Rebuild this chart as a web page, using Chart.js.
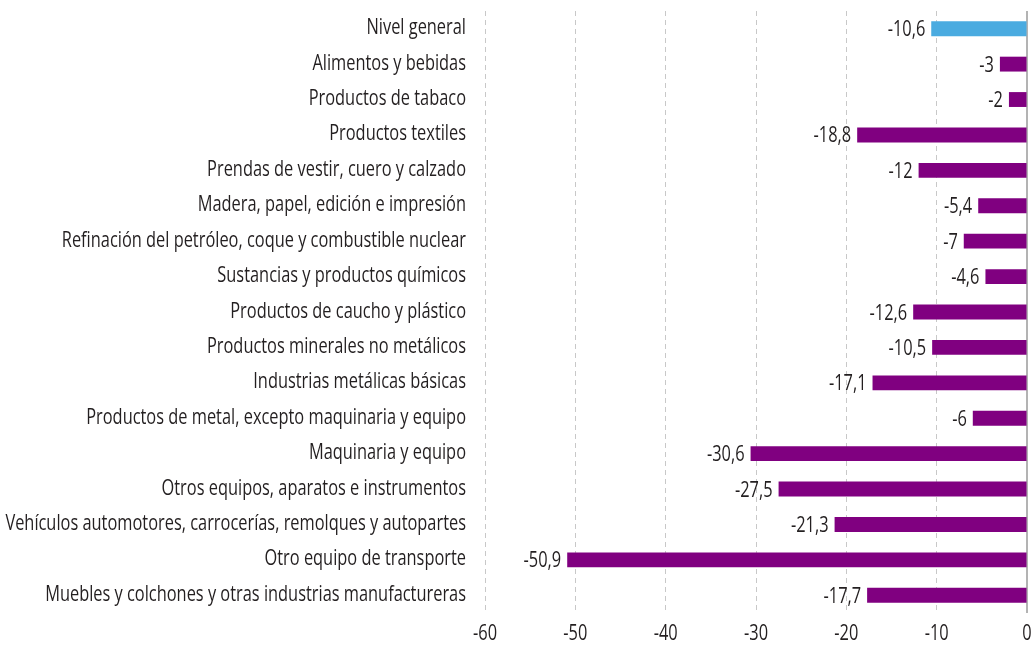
<!DOCTYPE html>
<html>
<head>
<meta charset="utf-8">
<script src="https://cdn.jsdelivr.net/npm/chart.js@4"></script>
<style>
html,body{margin:0;padding:0;background:#fff;}
#wrap{width:1035px;height:645px;position:relative;}
</style>
</head>
<body>
<div id="wrap"><canvas id="c"></canvas></div>
<script>
const categories = [
  "Nivel general",
  "Alimentos y bebidas",
  "Productos de tabaco",
  "Productos textiles",
  "Prendas de vestir, cuero y calzado",
  "Madera, papel, edición e impresión",
  "Refinación del petróleo, coque y combustible nuclear",
  "Sustancias y productos químicos",
  "Productos de caucho y plástico",
  "Productos minerales no metálicos",
  "Industrias metálicas básicas",
  "Productos de metal, excepto maquinaria y equipo",
  "Maquinaria y equipo",
  "Otros equipos, aparatos e instrumentos",
  "Vehículos automotores, carrocerías, remolques y autopartes",
  "Otro equipo de transporte",
  "Muebles y colchones y otras industrias manufactureras"
];
const values = [-10.6, -3, -2, -18.8, -12, -5.4, -7, -4.6, -12.6, -10.5, -17.1, -6, -30.6, -27.5, -21.3, -50.9, -17.7];
const xTicks = [-60, -50, -40, -30, -20, -10, 0];

const FONT = "'Open Sans', 'Noto Sans', sans-serif";
const FONT_SIZE = 21;
const SQUEEZE = 0.78;
const TEXT = '#231f20';
const colors = values.map((v, i) => i === 0 ? '#4aabe0' : '#800080');
const fmt = v => String(v).replace('.', ',');

// draws condensed text (horizontally squeezed) to mimic a condensed typeface
function condText(ctx, str, x, y, align) {
  ctx.save();
  ctx.translate(x, y);
  ctx.scale(SQUEEZE, 1);
  ctx.font = FONT_SIZE + 'px ' + FONT;
  ctx.fillStyle = TEXT;
  ctx.textAlign = align;
  ctx.textBaseline = 'alphabetic';
  ctx.fillText(str, 0, 0);
  ctx.restore();
}

const textPlugin = {
  id: 'textPlugin',
  afterDraw(chart) {
    const ctx = chart.ctx;
    const meta = chart.getDatasetMeta(0);
    const xs = chart.scales.x, ys = chart.scales.y;
    // category labels
    categories.forEach((c, i) => {
      const y = ys.getPixelForValue(i);
      condText(ctx, c, chart.chartArea.left - 19, y + 5.5, 'right');
    });
    // value labels
    meta.data.forEach((bar, i) => {
      condText(ctx, fmt(values[i]), bar.x - 6, bar.y + 7.5, 'right');
    });
    // x tick labels
    xTicks.forEach(v => {
      condText(ctx, String(v), xs.getPixelForValue(v), chart.chartArea.bottom + 27, 'center');
    });
  }
};

new Chart(document.getElementById('c'), {
  type: 'bar',
  data: {
    labels: categories,
    datasets: [{
      data: values,
      backgroundColor: colors,
      borderWidth: 0,
      barPercentage: 0.42,
      categoryPercentage: 1.0
    }]
  },
  options: {
    indexAxis: 'y',
    responsive: true,
    maintainAspectRatio: false,
    animation: false,
    layout: { padding: { top: 11, right: 8, left: 0, bottom: 0 } },
    plugins: { legend: { display: false }, tooltip: { enabled: false } },
    scales: {
      x: {
        min: -60, max: 0,
        afterBuildTicks: s => { s.ticks = xTicks.map(v => ({ value: v })); },
        afterFit: s => { s.height = 32; },
        grid: {
          color: ctx => ctx.tick && ctx.tick.value === 0 ? 'rgba(0,0,0,0)' : '#c8c8c8',
          lineWidth: 1,
          drawTicks: false
        },
        border: { display: false, dash: [5, 4] },
        ticks: { display: false }
      },
      y: {
        position: 'left',
        afterFit: s => { s.width = 485; },
        grid: { display: false, drawTicks: false },
        border: { display: false },
        ticks: { display: false }
      }
    }
  },
  plugins: [textPlugin, {
    id: 'zeroLine',
    beforeDatasetsDraw(chart) {
      const { ctx, chartArea, scales } = chart;
      const x = scales.x.getPixelForValue(0);
      ctx.save();
      ctx.strokeStyle = '#b3b3b3';
      ctx.lineWidth = 2;
      ctx.beginPath();
      ctx.moveTo(x, chartArea.top);
      ctx.lineTo(x, chartArea.bottom);
      ctx.stroke();
      ctx.restore();
    }
  }]
});
</script>
</body>
</html>
